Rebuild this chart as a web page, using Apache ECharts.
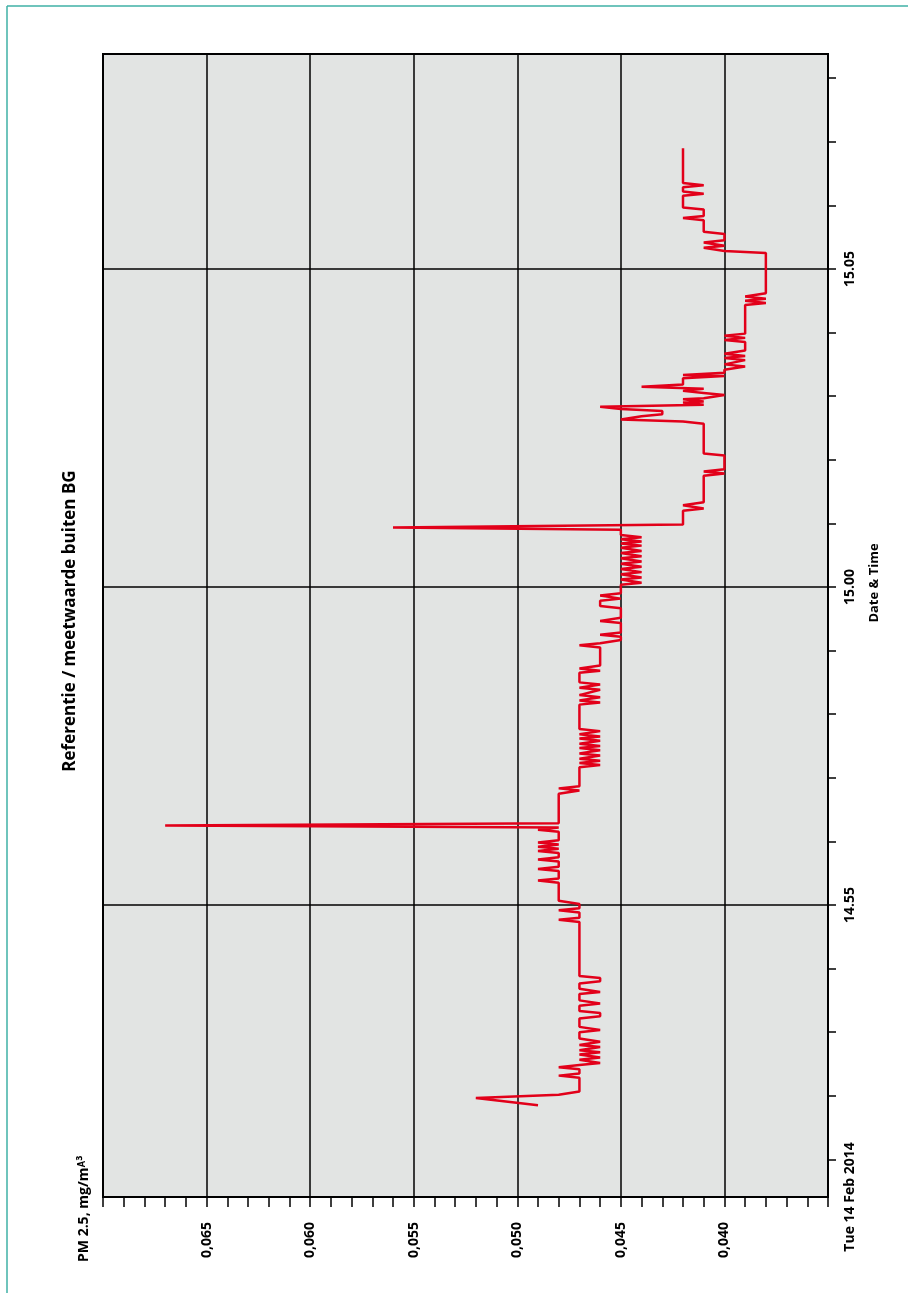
<!DOCTYPE html>
<html>
<head>
<meta charset="utf-8">
<script src="https://cdn.jsdelivr.net/npm/echarts@6/dist/echarts.min.js"></script>
<style>
html,body{margin:0;padding:0;background:#fff;}
#chart{width:908px;height:1293px;}
</style>
</head>
<body>
<div id="chart"></div>
<script>
// Time in seconds after 14:50:00 (Tue 14 Feb 2014), PM 2.5 in mg/m^3
const readings = [
  [111,0.049],[118,0.052],[121,0.048],[124,0.047],
  [137,0.047],[139,0.048],[141,0.047],[145,0.047],[147,0.048],[149,0.047],
  [151,0.046],[154,0.047],[156,0.046],[159,0.047],[161,0.046],[163,0.047],[166,0.046],[168,0.047],[171,0.046],[174,0.047],
  [180,0.047],[182,0.046],[185,0.047],[193,0.047],[195,0.046],[198,0.046],[200,0.047],[205,0.047],[207,0.046],[210,0.047],
  [216,0.047],[218,0.046],[221,0.047],[226,0.047],[228,0.046],[231,0.046],[233,0.047],
  [284,0.047],[286,0.048],[288,0.047],[293,0.047],[295,0.048],[297,0.047],[301,0.047],[304,0.048],
  [321,0.048],[323,0.049],[325,0.048],[332,0.048],[334,0.049],[336,0.048],[341,0.048],[343,0.049],[345,0.048],
  [349,0.048],[351,0.049],[353,0.048],[355,0.049],[357,0.048],[359,0.049],[361,0.048],[369,0.048],[371,0.049],[373,0.048],
  [375,0.067],[377,0.048],
  [405,0.048],[408,0.047],[410,0.048],[412,0.047],
  [430,0.047],[432,0.046],[434,0.047],[436,0.046],[438,0.047],[441,0.046],[443,0.047],[446,0.046],[448,0.047],[450,0.046],
  [452,0.047],[455,0.046],[457,0.047],[459,0.046],[461,0.047],[464,0.046],[466,0.047],
  [489,0.047],[491,0.046],[493,0.047],[496,0.046],[498,0.047],[503,0.046],[505,0.047],[508,0.046],[510,0.047],
  [519,0.047],[521,0.046],[523,0.047],[526,0.046],[543,0.046],[545,0.047],[547,0.046],[550,0.045],
  [553,0.045],[555,0.046],[557,0.045],[566,0.045],[568,0.046],[571,0.045],[580,0.045],[582,0.046],[587,0.046],[589,0.045],[592,0.046],[594,0.045],
  [602,0.045],[604,0.044],[607,0.045],[609,0.044],[612,0.045],[614,0.044],[617,0.045],[619,0.044],[622,0.045],[624,0.044],
  [627,0.045],[629,0.044],[632,0.045],[634,0.044],[637,0.045],[639,0.044],[641,0.045],[643,0.044],[645,0.045],[647,0.044],[649,0.045],
  [654,0.045],[656,0.056],[659,0.042],
  [672,0.042],[674,0.041],[677,0.042],[680,0.041],
  [705,0.041],[707,0.040],[709,0.041],[711,0.040],[724,0.040],[726,0.041],
  [754,0.041],[756,0.042],[758,0.045],[761,0.044],[763,0.043],[766,0.043],[768,0.045],[770,0.046],[772,0.041],
  [774,0.042],[775,0.041],[777,0.042],[778,0.041],[781,0.040],[783,0.041],[785,0.042],[787,0.041],[789,0.044],[791,0.042],
  [797,0.042],[799,0.040],[800,0.042],[802,0.040],
  [805,0.040],[808,0.039],[810,0.040],[814,0.039],[816,0.040],[818,0.039],[820,0.040],[823,0.039],[831,0.039],[833,0.040],
  [835,0.039],[837,0.040],[839,0.039],
  [866,0.039],[868,0.038],[870,0.039],[872,0.038],[874,0.039],[877,0.038],[915,0.038],[917,0.040],
  [920,0.041],[922,0.040],[925,0.041],[927,0.040],[933,0.040],[935,0.041],
  [946,0.041],[948,0.042],[950,0.041],[956,0.041],[958,0.042],[969,0.042],[971,0.041],[973,0.042],[977,0.042],[979,0.041],[981,0.042],
  [1014,0.042]
];

const pmLabelValues = [0.040, 0.045, 0.050, 0.055, 0.060, 0.065];
const pmLabelTexts  = ['0,040', '0,045', '0,050', '0,055', '0,060', '0,065'];

const timeMin = 24.5;     // 14:50:24.5
const timeMax = 1102.8;   // 15:08:22.8
const minuteTicks = [60,120,180,240,300,360,420,480,540,600,660,720,780,840,900,960,1020,1080];
const timeLabelValues = [24.5, 300, 600, 900];
const timeLabelTexts  = ['Tue 14 Feb 2014', '14.55', '15.00', '15.05'];

const FONT = '"Open Sans", "Liberation Sans", sans-serif';

function lookup(vals, texts, v, tol) {
  for (let i = 0; i < vals.length; i++) {
    if (Math.abs(vals[i] - v) < tol) return texts[i];
  }
  return '';
}

const chart = echarts.init(document.getElementById('chart'), null, {renderer: 'canvas'});
chart.setOption({
  animation: false,
  backgroundColor: '#ffffff',
  grid: {
    left: 103, right: 80, top: 54, bottom: 96,
    show: true, backgroundColor: '#e2e4e3', borderColor: '#000', borderWidth: 2,
    containLabel: false, outerBoundsMode: 'none'
  },
  xAxis: [{
    type: 'value', position: 'bottom', inverse: true,
    min: 0.035, max: 0.070, interval: 0.005,
    axisLine: {show: true, onZero: false, lineStyle: {color: '#000', width: 2}},
    axisTick: {show: true, inside: false, length: 10, lineStyle: {color: '#000', width: 1.5}},
    minorTick: {show: true, splitNumber: 5, length: 10, lineStyle: {color: '#000', width: 1.5}},
    minorSplitLine: {show: false},
    axisLabel: {
      rotate: 90, margin: 25, color: '#000', fontFamily: FONT, fontWeight: 'bold', fontSize: 14,
      formatter: v => lookup(pmLabelValues, pmLabelTexts, v, 1e-6)
    },
    splitLine: {show: true, lineStyle: {color: '#000', width: 1.5}}
  }],
  yAxis: [{
    type: 'value', position: 'right',
    min: timeMin, max: timeMax, minInterval: 60, maxInterval: 60,
    axisLine: {show: true, onZero: false, lineStyle: {color: '#000', width: 2}},
    axisTick: {show: true, inside: false, length: 8, lineStyle: {color: '#000', width: 1.5}, customValues: minuteTicks},
    axisLabel: {
      rotate: 90, margin: 15, color: '#000', fontFamily: FONT, fontWeight: 'bold', fontSize: 14,
      customValues: timeLabelValues,
      formatter: v => lookup(timeLabelValues, timeLabelTexts, v, 0.05)
    },
    splitLine: {show: false}
  }, {
    type: 'value', position: 'left',
    min: timeMin, max: timeMax, minInterval: 300, maxInterval: 300,
    axisLine: {show: false}, axisTick: {show: false}, axisLabel: {show: false},
    splitLine: {show: true, lineStyle: {color: '#000', width: 1.5}}
  }],
  graphic: [
    {type: 'line', shape: {x1: 7, y1: 6, x2: 7, y2: 1293}, style: {stroke: '#3fb0a6', lineWidth: 1.5}, silent: true},
    {type: 'line', shape: {x1: 7, y1: 6, x2: 908, y2: 6}, style: {stroke: '#3fb0a6', lineWidth: 1.5}, silent: true},
    {type: 'text', x: 70, y: 621, rotation: Math.PI / 2,
      style: {text: 'Referentie / meetwaarde buiten BG', fill: '#000', fontFamily: FONT, fontWeight: 'bold', fontSize: 17, align: 'center', verticalAlign: 'middle'}},
    {type: 'text', x: 84, y: 1262, rotation: Math.PI / 2,
      style: {text: 'PM 2.5, mg/m\u1D2C\u00B3', fill: '#000', fontFamily: FONT, fontWeight: 'bold', fontSize: 14, align: 'left', verticalAlign: 'middle'}},
    {type: 'text', x: 874, y: 583, rotation: Math.PI / 2,
      style: {text: 'Date & Time', fill: '#000', fontFamily: FONT, fontWeight: 'bold', fontSize: 13, align: 'center', verticalAlign: 'middle'}}
  ],
  series: [{
    type: 'line', xAxisIndex: 0, yAxisIndex: 0,
    data: readings.map(r => [r[1], r[0]]),
    showSymbol: false, symbol: 'none', smooth: false,
    lineStyle: {color: '#e2001a', width: 2.5},
    z: 5
  }]
});
</script>
</body>
</html>
